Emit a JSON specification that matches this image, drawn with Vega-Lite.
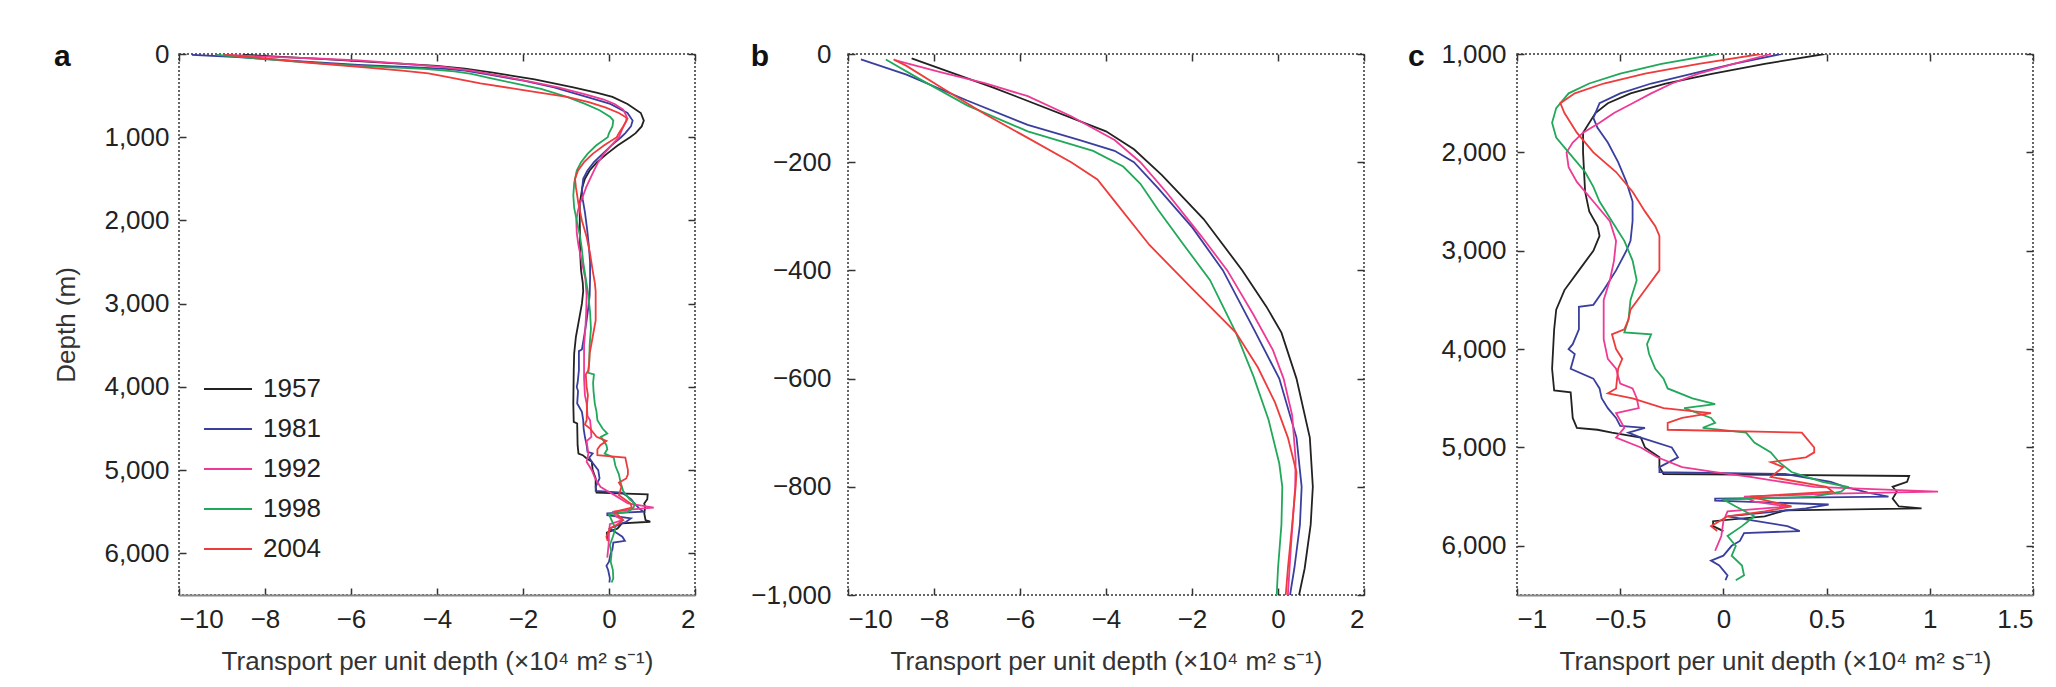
{
"$schema": "https://vega.github.io/schema/vega-lite/v6.json",
"background": "white",
"padding": {"left": 53, "top": 40, "right": 5, "bottom": 2},
"spacing": 153,
"bounds": "flush",
"config": {
  "font": "Liberation Sans",
  "view": {"stroke": "#333", "strokeDash": [2, 2], "strokeWidth": 1.5},
  "axis": {"labelFont": "Liberation Sans", "labelFontSize": 26, "labelColor": "#222", "titleFont": "Liberation Sans", "titleFontSize": 26, "titleFontWeight": "normal", "titleColor": "#333", "grid": false, "tickSize": -7, "tickColor": "#333", "tickWidth": 1.5, "domain": false, "labelPadding": 18, "labelOverlap": false},
  "title": {"font": "Liberation Sans", "fontSize": 30, "fontWeight": "bold", "color": "#111", "anchor": "start", "frame": "bounds", "offset": -31},
  "line": {"strokeWidth": 1.8}
},
"data": {"values": [
{"year":"1957","depth":8,"t":-8.52},{"year":"1957","depth":62,"t":-6.62},{"year":"1957","depth":143,"t":-4.0},{"year":"1957","depth":176,"t":-3.35},{"year":"1957","depth":224,"t":-2.7},{"year":"1957","depth":305,"t":-1.73},{"year":"1957","depth":400,"t":-0.83},{"year":"1957","depth":467,"t":-0.27},{"year":"1957","depth":515,"t":0.08},{"year":"1957","depth":600,"t":0.43},{"year":"1957","depth":709,"t":0.74},{"year":"1957","depth":800,"t":0.81},{"year":"1957","depth":870,"t":0.76},{"year":"1957","depth":951,"t":0.62},{"year":"1957","depth":1000,"t":0.49},
{"year":"1957","depth":1100,"t":0.2},{"year":"1957","depth":1200,"t":-0.05},{"year":"1957","depth":1300,"t":-0.28},{"year":"1957","depth":1400,"t":-0.45},{"year":"1957","depth":1500,"t":-0.56},{"year":"1957","depth":1600,"t":-0.62},{"year":"1957","depth":1800,"t":-0.68},{"year":"1957","depth":2000,"t":-0.68},{"year":"1957","depth":2400,"t":-0.67},{"year":"1957","depth":2600,"t":-0.65},{"year":"1957","depth":2750,"t":-0.61},{"year":"1957","depth":2850,"t":-0.6},{"year":"1957","depth":3000,"t":-0.63},{"year":"1957","depth":3200,"t":-0.7},{"year":"1957","depth":3400,"t":-0.77},{"year":"1957","depth":3600,"t":-0.81},{"year":"1957","depth":3800,"t":-0.82},{"year":"1957","depth":4200,"t":-0.83},{"year":"1957","depth":4420,"t":-0.82},{"year":"1957","depth":4440,"t":-0.74},{"year":"1957","depth":4700,"t":-0.73},{"year":"1957","depth":4800,"t":-0.71},{"year":"1957","depth":4820,"t":-0.61},{"year":"1957","depth":4850,"t":-0.54},{"year":"1957","depth":4900,"t":-0.4},{"year":"1957","depth":5000,"t":-0.38},{"year":"1957","depth":5100,"t":-0.31},{"year":"1957","depth":5200,"t":-0.31},{"year":"1957","depth":5270,"t":-0.29},{"year":"1957","depth":5290,"t":0.9},{"year":"1957","depth":5350,"t":0.89},{"year":"1957","depth":5400,"t":0.82},{"year":"1957","depth":5450,"t":0.84},{"year":"1957","depth":5520,"t":0.82},{"year":"1957","depth":5600,"t":0.85},{"year":"1957","depth":5620,"t":0.96},{"year":"1957","depth":5640,"t":0.3},{"year":"1957","depth":5700,"t":0.2},{"year":"1957","depth":5750,"t":-0.05},{"year":"1957","depth":5800,"t":-0.05},{"year":"1957","depth":5850,"t":0.0},
{"year":"1981","depth":10,"t":-9.7},{"year":"1981","depth":38,"t":-8.64},{"year":"1981","depth":86,"t":-7.23},{"year":"1981","depth":131,"t":-5.82},{"year":"1981","depth":159,"t":-4.61},{"year":"1981","depth":179,"t":-3.8},{"year":"1981","depth":200,"t":-3.35},{"year":"1981","depth":248,"t":-2.79},{"year":"1981","depth":321,"t":-1.99},{"year":"1981","depth":400,"t":-1.28},{"year":"1981","depth":515,"t":-0.52},{"year":"1981","depth":600,"t":0.03},{"year":"1981","depth":709,"t":0.43},{"year":"1981","depth":800,"t":0.55},{"year":"1981","depth":870,"t":0.51},{"year":"1981","depth":951,"t":0.38},{"year":"1981","depth":1000,"t":0.28},
{"year":"1981","depth":1100,"t":0.05},{"year":"1981","depth":1200,"t":-0.15},{"year":"1981","depth":1300,"t":-0.35},{"year":"1981","depth":1400,"t":-0.5},{"year":"1981","depth":1500,"t":-0.6},{"year":"1981","depth":1650,"t":-0.63},{"year":"1981","depth":1750,"t":-0.61},{"year":"1981","depth":1900,"t":-0.56},{"year":"1981","depth":2100,"t":-0.51},{"year":"1981","depth":2300,"t":-0.47},{"year":"1981","depth":2500,"t":-0.44},{"year":"1981","depth":2700,"t":-0.44},{"year":"1981","depth":2900,"t":-0.45},{"year":"1981","depth":3000,"t":-0.47},{"year":"1981","depth":3200,"t":-0.52},{"year":"1981","depth":3400,"t":-0.58},{"year":"1981","depth":3550,"t":-0.63},{"year":"1981","depth":3570,"t":-0.7},{"year":"1981","depth":3800,"t":-0.7},{"year":"1981","depth":3950,"t":-0.73},{"year":"1981","depth":4000,"t":-0.75},{"year":"1981","depth":4050,"t":-0.72},{"year":"1981","depth":4200,"t":-0.74},{"year":"1981","depth":4300,"t":-0.63},{"year":"1981","depth":4400,"t":-0.6},{"year":"1981","depth":4500,"t":-0.59},{"year":"1981","depth":4600,"t":-0.56},{"year":"1981","depth":4700,"t":-0.52},{"year":"1981","depth":4780,"t":-0.5},{"year":"1981","depth":4800,"t":-0.38},{"year":"1981","depth":4850,"t":-0.46},{"year":"1981","depth":4900,"t":-0.4},{"year":"1981","depth":5000,"t":-0.25},{"year":"1981","depth":5100,"t":-0.22},{"year":"1981","depth":5200,"t":-0.31},{"year":"1981","depth":5250,"t":-0.31},{"year":"1981","depth":5270,"t":0.3},{"year":"1981","depth":5350,"t":0.52},{"year":"1981","depth":5400,"t":0.59},{"year":"1981","depth":5460,"t":0.7},{"year":"1981","depth":5500,"t":0.8},{"year":"1981","depth":5520,"t":-0.04},{"year":"1981","depth":5540,"t":-0.04},{"year":"1981","depth":5580,"t":0.51},{"year":"1981","depth":5620,"t":0.4},{"year":"1981","depth":5700,"t":0.02},{"year":"1981","depth":5800,"t":0.31},{"year":"1981","depth":5850,"t":0.37},{"year":"1981","depth":5870,"t":0.1},{"year":"1981","depth":5950,"t":0.08},{"year":"1981","depth":6000,"t":0.04},{"year":"1981","depth":6100,"t":0.0},{"year":"1981","depth":6150,"t":-0.06},{"year":"1981","depth":6200,"t":-0.02},{"year":"1981","depth":6300,"t":0.02},{"year":"1981","depth":6350,"t":0.01},
{"year":"1992","depth":12,"t":-8.89},{"year":"1992","depth":34,"t":-7.83},{"year":"1992","depth":54,"t":-6.82},{"year":"1992","depth":78,"t":-5.82},{"year":"1992","depth":115,"t":-4.81},{"year":"1992","depth":159,"t":-3.8},{"year":"1992","depth":200,"t":-3.2},{"year":"1992","depth":256,"t":-2.59},{"year":"1992","depth":337,"t":-1.78},{"year":"1992","depth":400,"t":-1.18},{"year":"1992","depth":482,"t":-0.57},{"year":"1992","depth":547,"t":-0.12},{"year":"1992","depth":600,"t":0.13},{"year":"1992","depth":668,"t":0.33},{"year":"1992","depth":749,"t":0.41},{"year":"1992","depth":800,"t":0.4},{"year":"1992","depth":911,"t":0.3},{"year":"1992","depth":1000,"t":0.23},
{"year":"1992","depth":1100,"t":0.05},{"year":"1992","depth":1200,"t":-0.12},{"year":"1992","depth":1300,"t":-0.25},{"year":"1992","depth":1400,"t":-0.35},{"year":"1992","depth":1500,"t":-0.44},{"year":"1992","depth":1600,"t":-0.53},{"year":"1992","depth":1700,"t":-0.6},{"year":"1992","depth":1800,"t":-0.68},{"year":"1992","depth":1900,"t":-0.73},{"year":"1992","depth":2000,"t":-0.76},{"year":"1992","depth":2150,"t":-0.75},{"year":"1992","depth":2300,"t":-0.71},{"year":"1992","depth":2500,"t":-0.63},{"year":"1992","depth":2700,"t":-0.55},{"year":"1992","depth":2900,"t":-0.52},{"year":"1992","depth":3100,"t":-0.53},{"year":"1992","depth":3300,"t":-0.55},{"year":"1992","depth":3500,"t":-0.58},{"year":"1992","depth":3700,"t":-0.58},{"year":"1992","depth":3900,"t":-0.58},{"year":"1992","depth":4100,"t":-0.56},{"year":"1992","depth":4200,"t":-0.52},{"year":"1992","depth":4350,"t":-0.5},{"year":"1992","depth":4400,"t":-0.44},{"year":"1992","depth":4500,"t":-0.42},{"year":"1992","depth":4600,"t":-0.41},{"year":"1992","depth":4650,"t":-0.52},{"year":"1992","depth":4800,"t":-0.48},{"year":"1992","depth":4900,"t":-0.52},{"year":"1992","depth":5000,"t":-0.4},{"year":"1992","depth":5100,"t":-0.32},{"year":"1992","depth":5200,"t":-0.2},{"year":"1992","depth":5250,"t":-0.04},{"year":"1992","depth":5300,"t":0.13},{"year":"1992","depth":5400,"t":0.44},{"year":"1992","depth":5450,"t":1.04},{"year":"1992","depth":5470,"t":0.54},{"year":"1992","depth":5500,"t":0.1},{"year":"1992","depth":5550,"t":0.15},{"year":"1992","depth":5600,"t":0.31},{"year":"1992","depth":5650,"t":0.02},{"year":"1992","depth":5750,"t":0.0},{"year":"1992","depth":5900,"t":-0.01},{"year":"1992","depth":6000,"t":-0.03},{"year":"1992","depth":6050,"t":-0.04},
{"year":"1998","depth":10,"t":-9.12},{"year":"1998","depth":46,"t":-8.34},{"year":"1998","depth":95,"t":-7.23},{"year":"1998","depth":143,"t":-5.82},{"year":"1998","depth":179,"t":-4.3},{"year":"1998","depth":208,"t":-3.6},{"year":"1998","depth":240,"t":-3.2},{"year":"1998","depth":288,"t":-2.79},{"year":"1998","depth":353,"t":-2.19},{"year":"1998","depth":418,"t":-1.58},{"year":"1998","depth":515,"t":-0.98},{"year":"1998","depth":596,"t":-0.57},{"year":"1998","depth":676,"t":-0.22},{"year":"1998","depth":757,"t":0.03},{"year":"1998","depth":800,"t":0.1},{"year":"1998","depth":870,"t":0.08},{"year":"1998","depth":951,"t":0.0},{"year":"1998","depth":1000,"t":-0.03},
{"year":"1998","depth":1100,"t":-0.3},{"year":"1998","depth":1200,"t":-0.5},{"year":"1998","depth":1300,"t":-0.65},{"year":"1998","depth":1400,"t":-0.75},{"year":"1998","depth":1550,"t":-0.81},{"year":"1998","depth":1700,"t":-0.83},{"year":"1998","depth":1850,"t":-0.81},{"year":"1998","depth":2000,"t":-0.75},{"year":"1998","depth":2200,"t":-0.67},{"year":"1998","depth":2350,"t":-0.63},{"year":"1998","depth":2500,"t":-0.6},{"year":"1998","depth":2700,"t":-0.54},{"year":"1998","depth":2900,"t":-0.48},{"year":"1998","depth":3100,"t":-0.44},{"year":"1998","depth":3300,"t":-0.42},{"year":"1998","depth":3500,"t":-0.45},{"year":"1998","depth":3700,"t":-0.46},{"year":"1998","depth":3830,"t":-0.48},{"year":"1998","depth":3850,"t":-0.35},{"year":"1998","depth":3950,"t":-0.37},{"year":"1998","depth":4050,"t":-0.36},{"year":"1998","depth":4200,"t":-0.33},{"year":"1998","depth":4300,"t":-0.29},{"year":"1998","depth":4400,"t":-0.27},{"year":"1998","depth":4500,"t":-0.15},{"year":"1998","depth":4560,"t":-0.04},{"year":"1998","depth":4600,"t":-0.19},{"year":"1998","depth":4700,"t":-0.06},{"year":"1998","depth":4750,"t":-0.04},{"year":"1998","depth":4800,"t":-0.1},{"year":"1998","depth":4850,"t":0.11},{"year":"1998","depth":4950,"t":0.15},{"year":"1998","depth":5050,"t":0.23},{"year":"1998","depth":5150,"t":0.27},{"year":"1998","depth":5250,"t":0.33},{"year":"1998","depth":5350,"t":0.48},{"year":"1998","depth":5400,"t":0.6},{"year":"1998","depth":5450,"t":0.57},{"year":"1998","depth":5500,"t":0.44},{"year":"1998","depth":5530,"t":0.0},{"year":"1998","depth":5600,"t":0.06},{"year":"1998","depth":5700,"t":0.15},{"year":"1998","depth":5800,"t":0.09},{"year":"1998","depth":5900,"t":0.02},{"year":"1998","depth":6000,"t":0.06},{"year":"1998","depth":6100,"t":0.04},{"year":"1998","depth":6200,"t":0.09},{"year":"1998","depth":6300,"t":0.1},{"year":"1998","depth":6350,"t":0.06},
{"year":"2004","depth":10,"t":-8.94},{"year":"2004","depth":22,"t":-8.64},{"year":"2004","depth":62,"t":-7.83},{"year":"2004","depth":111,"t":-6.82},{"year":"2004","depth":155,"t":-5.82},{"year":"2004","depth":200,"t":-4.81},{"year":"2004","depth":232,"t":-4.2},{"year":"2004","depth":272,"t":-3.8},{"year":"2004","depth":353,"t":-2.99},{"year":"2004","depth":434,"t":-1.99},{"year":"2004","depth":515,"t":-0.98},{"year":"2004","depth":579,"t":-0.47},{"year":"2004","depth":644,"t":-0.07},{"year":"2004","depth":709,"t":0.23},{"year":"2004","depth":773,"t":0.43},{"year":"2004","depth":800,"t":0.41},{"year":"2004","depth":870,"t":0.33},{"year":"2004","depth":951,"t":0.23},{"year":"2004","depth":1000,"t":0.18},
{"year":"2004","depth":1100,"t":-0.12},{"year":"2004","depth":1200,"t":-0.38},{"year":"2004","depth":1300,"t":-0.58},{"year":"2004","depth":1400,"t":-0.72},{"year":"2004","depth":1500,"t":-0.79},{"year":"2004","depth":1600,"t":-0.77},{"year":"2004","depth":1800,"t":-0.71},{"year":"2004","depth":2000,"t":-0.63},{"year":"2004","depth":2200,"t":-0.52},{"year":"2004","depth":2400,"t":-0.44},{"year":"2004","depth":2600,"t":-0.38},{"year":"2004","depth":2750,"t":-0.33},{"year":"2004","depth":2850,"t":-0.31},{"year":"2004","depth":3000,"t":-0.31},{"year":"2004","depth":3200,"t":-0.31},{"year":"2004","depth":3400,"t":-0.38},{"year":"2004","depth":3600,"t":-0.45},{"year":"2004","depth":3700,"t":-0.46},{"year":"2004","depth":3800,"t":-0.48},{"year":"2004","depth":3850,"t":-0.54},{"year":"2004","depth":4000,"t":-0.52},{"year":"2004","depth":4100,"t":-0.49},{"year":"2004","depth":4200,"t":-0.51},{"year":"2004","depth":4400,"t":-0.52},{"year":"2004","depth":4450,"t":-0.56},{"year":"2004","depth":4500,"t":-0.44},{"year":"2004","depth":4600,"t":-0.29},{"year":"2004","depth":4650,"t":-0.06},{"year":"2004","depth":4700,"t":-0.2},{"year":"2004","depth":4750,"t":-0.27},{"year":"2004","depth":4820,"t":-0.27},{"year":"2004","depth":4850,"t":0.38},{"year":"2004","depth":4900,"t":0.4},{"year":"2004","depth":5000,"t":0.44},{"year":"2004","depth":5050,"t":0.44},{"year":"2004","depth":5100,"t":0.4},{"year":"2004","depth":5150,"t":0.23},{"year":"2004","depth":5200,"t":0.29},{"year":"2004","depth":5300,"t":0.23},{"year":"2004","depth":5400,"t":0.5},{"year":"2004","depth":5450,"t":0.53},{"year":"2004","depth":5500,"t":0.13},{"year":"2004","depth":5550,"t":0.23},{"year":"2004","depth":5600,"t":0.33},{"year":"2004","depth":5650,"t":0.2},{"year":"2004","depth":5700,"t":0.02},{"year":"2004","depth":5800,"t":-0.06},{"year":"2004","depth":5850,"t":-0.03}
]},
"resolve": {"scale": {"x": "independent", "y": "independent", "color": "independent"}, "legend": {"color": "independent"}},
"hconcat": [
 {
  "width": 516, "height": 541,
  "title": {"text": "a"},
  "layer": [
   {"mark": {"type": "line", "clip": true},
    "encoding": {
     "x": {"field": "t", "type": "quantitative", "scale": {"domain": [-10, 2], "nice": false, "zero": false}, "axis": {"title": "Transport per unit depth (×10⁴ m² s⁻¹)", "values": [-10, -8, -6, -4, -2, 0, 2], "format": "d", "domain": true, "domainColor": "#888", "domainWidth": 2, "titlePadding": 16}},
     "y": {"field": "depth", "type": "quantitative", "scale": {"domain": [0, 6500], "reverse": true, "nice": false}, "axis": {"title": "Depth (m)", "values": [0, 1000, 2000, 3000, 4000, 5000, 6000], "format": ",d", "labelPadding": 17, "titlePadding": 24}},
     "color": {"field": "year", "type": "nominal", "scale": {"domain": ["1957", "1981", "1992", "1998", "2004"], "range": ["#222222", "#3a3f9e", "#ee3a95", "#22a85a", "#ee3b3b"]},
       "legend": {"orient": "none", "legendX": 24, "legendY": 310, "title": null, "padding": 0, "symbolType": "stroke", "symbolSize": 2300, "symbolStrokeWidth": 2, "labelFontSize": 26, "labelFont": "Liberation Sans", "labelColor": "#222", "rowPadding": 2, "labelOffset": 10}},
     "order": {"field": "depth", "type": "quantitative"}
    }},
   {"mark": {"type": "point", "opacity": 0},
    "encoding": {
     "x": {"field": "t", "type": "quantitative", "axis": {"orient": "top", "labels": false, "title": null, "values": [-10, -8, -6, -4, -2, 0, 2]}},
     "y": {"field": "depth", "type": "quantitative", "axis": {"orient": "right", "labels": false, "title": null, "values": [0, 1000, 2000, 3000, 4000, 5000, 6000]}}
    }}
  ],
  "resolve": {"axis": {"x": "independent", "y": "independent"}}
 },
 {
  "width": 516, "height": 541,
  "title": {"text": "b"},
  "transform": [{"filter": "datum.depth <= 1000"}],
  "layer": [
   {"mark": {"type": "line", "clip": true},
    "encoding": {
     "x": {"field": "t", "type": "quantitative", "scale": {"domain": [-10, 2], "nice": false, "zero": false}, "axis": {"title": "Transport per unit depth (×10⁴ m² s⁻¹)", "values": [-10, -8, -6, -4, -2, 0, 2], "format": "d", "titlePadding": 16}},
     "y": {"field": "depth", "type": "quantitative", "scale": {"domain": [0, 1000], "reverse": true, "nice": false}, "axis": {"title": null, "values": [0, 200, 400, 600, 800, 1000], "labelExpr": "datum.value == 0 ? '0' : '−' + format(datum.value, ',d')", "labelPadding": 24}},
     "color": {"field": "year", "type": "nominal", "scale": {"domain": ["1957", "1981", "1992", "1998", "2004"], "range": ["#222222", "#3a3f9e", "#ee3a95", "#22a85a", "#ee3b3b"]}, "legend": null},
     "order": {"field": "depth", "type": "quantitative"}
    }},
   {"mark": {"type": "point", "opacity": 0},
    "encoding": {
     "x": {"field": "t", "type": "quantitative", "axis": {"orient": "top", "labels": false, "title": null, "values": [-10, -8, -6, -4, -2, 0, 2]}},
     "y": {"field": "depth", "type": "quantitative", "axis": {"orient": "right", "labels": false, "title": null, "values": [0, 200, 400, 600, 800, 1000]}}
    }}
  ],
  "resolve": {"axis": {"x": "independent", "y": "independent"}}
 },
 {
  "width": 516, "height": 541,
  "title": {"text": "c", "dx": -33},
  "transform": [{"filter": "datum.depth >= 1000"}],
  "layer": [
   {"mark": {"type": "line", "clip": true},
    "encoding": {
     "x": {"field": "t", "type": "quantitative", "scale": {"domain": [-1, 1.5], "nice": false, "zero": false}, "axis": {"title": "Transport per unit depth (×10⁴ m² s⁻¹)", "values": [-1, -0.5, 0, 0.5, 1, 1.5], "format": "~f", "domain": true, "domainColor": "#888", "domainWidth": 2, "titlePadding": 16}},
     "y": {"field": "depth", "type": "quantitative", "scale": {"domain": [1000, 6500], "reverse": true, "nice": false, "zero": false}, "axis": {"title": null, "values": [1000, 2000, 3000, 4000, 5000, 6000], "format": ",d", "labelPadding": 18}},
     "color": {"field": "year", "type": "nominal", "scale": {"domain": ["1957", "1981", "1992", "1998", "2004"], "range": ["#222222", "#3a3f9e", "#ee3a95", "#22a85a", "#ee3b3b"]}, "legend": null},
     "order": {"field": "depth", "type": "quantitative"}
    }},
   {"mark": {"type": "point", "opacity": 0},
    "encoding": {
     "x": {"field": "t", "type": "quantitative", "axis": {"orient": "top", "labels": false, "title": null, "values": [-1, -0.5, 0, 0.5, 1, 1.5]}},
     "y": {"field": "depth", "type": "quantitative", "axis": {"orient": "right", "labels": false, "title": null, "values": [1000, 2000, 3000, 4000, 5000, 6000]}}
    }}
  ],
  "resolve": {"axis": {"x": "independent", "y": "independent"}}
 }
]
}
